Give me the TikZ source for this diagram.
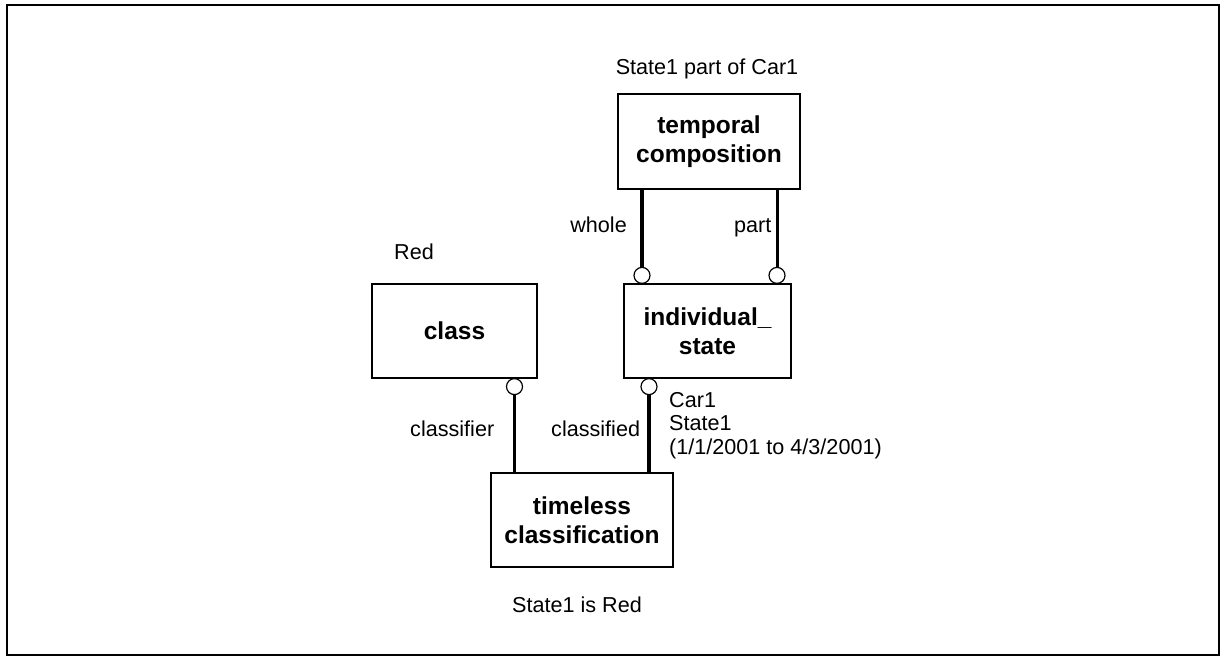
\documentclass[tikz,border=0pt]{standalone}
\usepackage{fontspec}
\setmainfont{Liberation Sans}
\begin{document}
\begin{tikzpicture}[x=1pt,y=-1pt,
  lbl/.style={font=\fontsize{21.6}{23.5}\selectfont, inner sep=0pt},
  entity/.style={draw, line width=2pt, font=\fontsize{24.5}{28.5}\selectfont\bfseries,
                 align=center, inner sep=0pt},
  role/.style={draw, circle, line width=1.2pt, minimum size=16pt, inner sep=0pt, fill=white},
  link/.style={line width=3.5pt}]
\useasboundingbox (0,0) rectangle (1221,657);
\draw[line width=2pt] (7,5) rectangle (1219,655);

% entity types
\node[entity, minimum width=182pt, minimum height=95pt] (tc)  at (709,141.5) {temporal\\composition};
\node[entity, minimum width=165pt, minimum height=94pt] (cls) at (454.5,331) {class};
\node[entity, minimum width=167pt, minimum height=94pt] (ist) at (707.5,331) {individual\_\\state};
\node[entity, minimum width=182pt, minimum height=94pt] (tcl) at (582,520) {timeless\\classification};

% role ends
\node[role, anchor=south] (cw)  at (642,284) {};
\node[role, anchor=south] (cp)  at (777,284) {};
\node[role, anchor=north] (cc)  at (514.5,378) {};
\node[role, anchor=north] (cd)  at (649,378) {};

% relationships
\draw[link] (tc.south -| cw.north) -- (cw.north);
\draw[link, line width=3pt] (tc.south -| cp.north) -- (cp.north);
\draw[link] (cc.south) -- (cc.south |- tcl.north);
\draw[link] (cd.south) -- (cd.south |- tcl.north);

% labels
\node[lbl, anchor=base] (ex1) at (707,74) {State1 part of Car1};
\node[lbl, anchor=base west] (ex2) at (394,259) {Red};
\node[lbl, anchor=base east] (rw) at (627,232) {whole};
\node[lbl, anchor=base west] (rp) at (734,232) {part};
\node[lbl, anchor=base west] (rc) at (410,436) {classifier};
\node[lbl, anchor=base west] (rd) at (551,436) {classified};
\node[lbl, anchor=north west, align=left] (ex3) at (669,392) {Car1\\State1\\(1/1/2001 to 4/3/2001)};
\node[lbl, anchor=base west] (ex4) at (512,612) {State1 is Red};
\end{tikzpicture}
\end{document}
